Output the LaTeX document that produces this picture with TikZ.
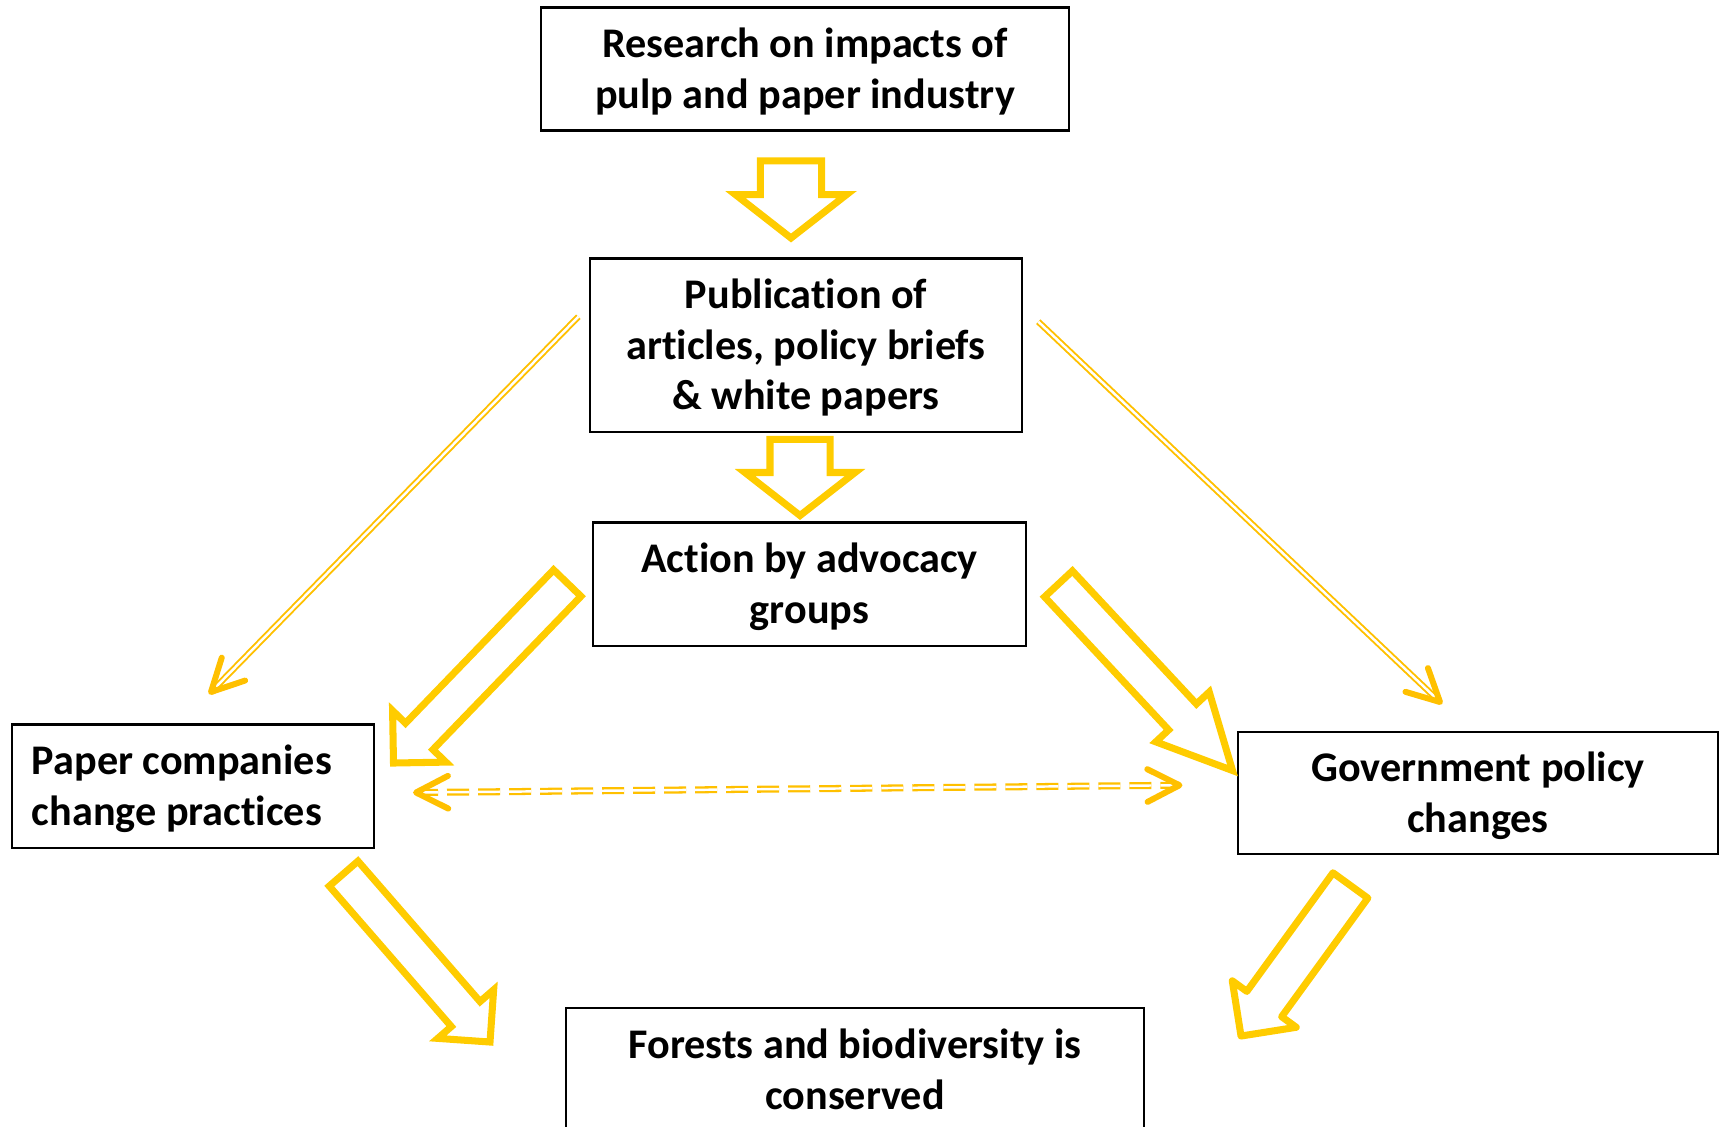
\documentclass[tikz,border=0pt]{standalone}
\usepackage{fontspec}
\setmainfont{Carlito}[Ligatures=NoCommon]
\usetikzlibrary{shapes.arrows,calc}
\definecolor{arrowyellow}{HTML}{FFCC00}
\definecolor{lineyellow}{HTML}{FFC000}
\newcommand{\tstrut}{\rule{0pt}{11pt}}
\newcommand{\bstrut}{\rule[-3pt]{0pt}{3pt}}
\tikzset{
  box/.style={draw, line width=0.6pt, align=flush center, inner sep=0pt, font=\fontsize{12}{14.4}\selectfont\bfseries},
  bigarrow/.style={single arrow, draw=arrowyellow, line width=2pt, inner xsep=0pt, outer sep=0pt, minimum width=0pt, anchor=tip},
  thinline/.style={draw=lineyellow, line width=0.55pt, double=white, double distance=0.7pt},
  dashline/.style={thinline, line width=0.65pt, dash pattern=on 0.22cm off 0.09cm},
  tipline/.style={draw=lineyellow, line width=1.7pt, line cap=round, line join=round}
}
\newcommand{\chevron}[2]{\draw[tipline] ($(#1)!0.36cm!27:(#2)$) -- (#1) -- ($(#1)!0.36cm!-27:(#2)$);}
\begin{document}
\begin{tikzpicture}[x=0.01cm, y=-0.01cm]
    \useasboundingbox (0,0) rectangle (1719,1126);
    \node[box, minimum width=5.28cm, minimum height=1.23cm] (research) at (805,69) {\tstrut Research on impacts of\\pulp and paper industry\bstrut};
    \node[box, minimum width=4.32cm, minimum height=1.73cm] (pub) at (806,345) {\tstrut Publication of\\articles, policy briefs\\\& white papers\bstrut};
    \node[box, minimum width=4.32cm, minimum height=1.23cm] (action) at (809.5,584) {\tstrut Action by advocacy\\groups\bstrut};
    \node[box, align=flush left, text width=3.22cm, inner xsep=0.2cm, minimum height=1.23cm] (paper) at (193,786) {\tstrut Paper companies\\change practices\bstrut};
    \node[box, minimum width=4.8cm, minimum height=1.22cm] (gov) at (1478,793) {\tstrut Government policy\\changes\bstrut};
    \node[box, minimum width=5.78cm, minimum height=1.24cm] (forest) at (855,1070) {\tstrut Forests and biodiversity is\\conserved\bstrut};
    \node[bigarrow, rotate=-90, inner ysep=0.27cm, single arrow head extend=0.25cm, minimum height=0.77cm, single arrow tip angle=104] (a1) at (791,238) {};
    \node[bigarrow, rotate=-90, inner ysep=0.265cm, single arrow head extend=0.25cm, minimum height=0.76cm, single arrow tip angle=104] (a2) at (800,515.5) {};
    \node[bigarrow, rotate=226, inner ysep=0.155cm, single arrow head extend=0.18cm, minimum height=2.5cm, single arrow tip angle=90] (a3) at (393.5,763) {};
    \node[bigarrow, rotate=-47, inner ysep=0.155cm, single arrow head extend=0.175cm, minimum height=2.55cm, single arrow tip angle=53] (a4) at (1232.5,770.5) {};
    \node[bigarrow, rotate=-49, inner ysep=0.155cm, single arrow head extend=0.18cm, minimum height=2.23cm, single arrow tip angle=90] (a5) at (490,1042) {};
    \node[bigarrow, rotate=234, line join=round, inner ysep=0.18cm, single arrow head extend=0.18cm, minimum height=1.86cm, single arrow tip angle=90] (a6) at (1241,1036) {};
    \coordinate (ls) at (578.3,316.7);
    \coordinate (lt) at (211,692);
    \coordinate (rs) at (1038.3,321.7);
    \coordinate (rt) at (1440,702);
    \coordinate (dl) at (416,792.5);
    \coordinate (dr) at (1179.5,785.2);
    \draw[thinline] (ls) -- (lt);
    \draw[thinline] (rs) -- (rt);
    \draw[dashline] (dl) -- (dr);
    \chevron{lt}{ls}
    \chevron{rt}{rs}
    \chevron{dl}{dr}
    \chevron{dr}{dl}
\end{tikzpicture}
\end{document}
